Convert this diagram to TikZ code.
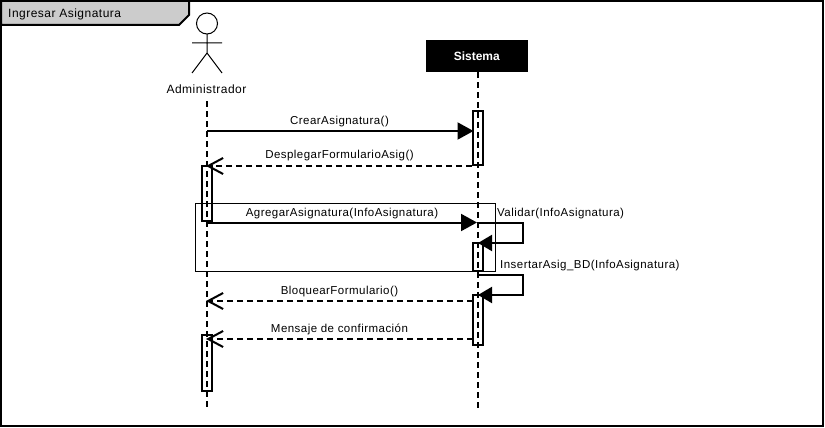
\documentclass[tikz,border=0pt]{standalone}
\usepackage{fontspec}
\setmainfont{Liberation Sans}
\newfontfamily\msgfont[LetterSpace=4]{Liberation Sans}
\usetikzlibrary{arrows.meta}
\definecolor{tabgray}{HTML}{CCCCCC}
\tikzset{
	lifeline/.style={line width=2pt, dash pattern=on 6pt off 4pt},
	activation/.style={draw, line width=2pt, fill=none, minimum width=10pt, inner sep=0pt},
	syncmsg/.style={line width=2pt, -{Triangle[length=16pt,width=17pt]}},
	selfmsg/.style={line width=2pt, -{Triangle[length=14pt,width=16pt]}},
	replymsg/.style={line width=2pt, dash pattern=on 6pt off 4pt, -{Straight Barb[length=15pt,width=16pt]}},
	namelabel/.style={font=\msgfont\fontsize{12}{14}\selectfont, inner sep=0pt},
	msglabel/.style={font=\msgfont\fontsize{11.5}{14}\selectfont, inner sep=0pt}
}
\begin{document}
\begin{tikzpicture}[x=1pt,y=-1pt]
\useasboundingbox (0,0) rectangle (825,428);
\fill[white] (0,0) rectangle (825,428);
% frame and tab
\draw[line width=2pt] (1,1) rectangle (823,426);
\draw[line width=2pt, fill=tabgray] (1,1) -- (189,1) -- (189,15) -- (179,25) -- (1,25) -- cycle;
\node[namelabel, anchor=west] (title) at (8,14.5) {Ingresar Asignatura};
% actor
\draw[line width=1pt] (207,23.5) circle (10.5pt);
\draw[line width=1pt] (207,34) -- (207,53) (192,43) -- (222,43) (192,73) -- (207,53) -- (222,73);
\node[namelabel] (admin) at (206.5,89.5) {Administrador};
% system
\node[fill=black, minimum width=102pt, minimum height=32pt, inner sep=0pt, text=white, font=\fontsize{12}{14}\selectfont\bfseries] (sistema) at (476.8,56) {Sistema};
% lifelines
\coordinate (adminTop) at (207,101);
\coordinate (adminEnd) at (207,409);
\coordinate (sisEnd) at (478,408);
\draw[lifeline] (adminTop) -- (adminEnd);
\draw[lifeline] (sistema.south -| sisEnd) -- (sisEnd);
% combined fragment
\draw[line width=1pt] (195.5,203.5) rectangle (495.5,271.5);
% activations
\node[activation, minimum height=54pt] (s1) at (478,138) {};
\node[activation, minimum height=55pt] (a1) at (207,193.5) {};
\node[activation, minimum height=28pt] (s2) at (478,257) {};
\node[activation, minimum height=50pt] (s3) at (478,320) {};
\node[activation, minimum height=56pt] (a2) at (207,363) {};
% messages
\coordinate (m1) at (207,131);
\coordinate (m3) at (207,222.5);
\coordinate (v1) at (478,223);
\coordinate (v2) at (478,243);
\coordinate (i1) at (478,275);
\coordinate (i2) at (478,295);
\draw[syncmsg] (m1) -- ([xshift=1.5pt]m1 -| s1.west);
\draw[replymsg] (s1.south west) -- ([xshift=-1pt]s1.south west -| adminTop);
\draw[syncmsg] (m3) -- ([xshift=-1pt]m3 -| sisEnd);
\draw[selfmsg] (v1) -- ++(45,0) |- (v2);
\draw[selfmsg] (i1) -- ++(45,0) |- (i2);
\coordinate (m6) at (473,301);
\coordinate (m7) at (473,339);
\draw[replymsg] (m6) -- ([xshift=-1pt]m6 -| adminTop);
\draw[replymsg] (m7) -- ([xshift=-1pt]m7 -| adminTop);
% labels
\node[msglabel] (l1) at (339.5,122) {CrearAsignatura()};
\node[msglabel] (l2) at (339.5,156) {DesplegarFormularioAsig()};
\node[msglabel] (l3) at (342,214) {AgregarAsignatura(InfoAsignatura)};
\node[msglabel, anchor=west] (l4) at (497,214) {Validar(InfoAsignatura)};
\node[msglabel, anchor=west] (l5) at (500,266) {InsertarAsig\_BD(InfoAsignatura)};
\node[msglabel] (l6) at (339.5,292) {BloquearFormulario()};
\node[msglabel] (l7) at (339.5,329.5) {Mensaje de confirmación};
\end{tikzpicture}
\end{document}
